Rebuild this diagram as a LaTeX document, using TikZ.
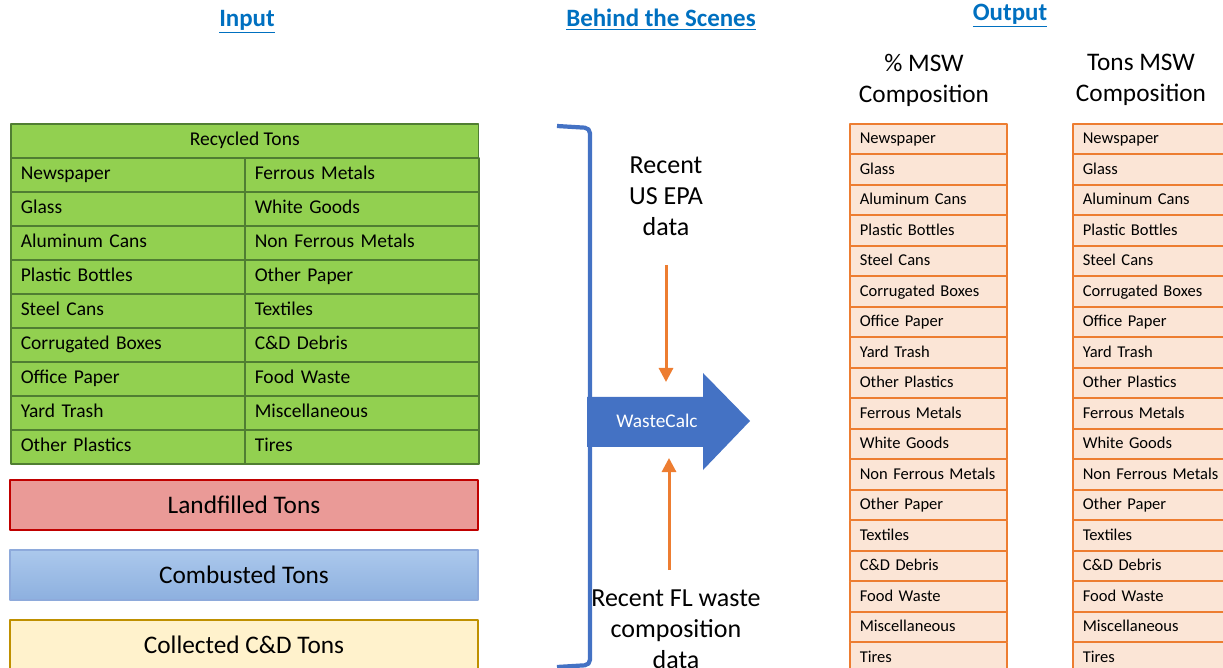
\documentclass[tikz,border=0pt]{standalone}
\usepackage{fontspec}
\setmainfont{Carlito}
\usetikzlibrary{positioning,arrows.meta}
\definecolor{headblue}{HTML}{0070C0}
\definecolor{recgreen}{HTML}{92D050}
\definecolor{recline}{HTML}{507E32}
\definecolor{landfill}{HTML}{EA9A97}
\definecolor{landline}{HTML}{C00000}
\definecolor{combtop}{HTML}{ABC8EC}
\definecolor{combbot}{HTML}{8DB0DF}
\definecolor{combline}{HTML}{8EAADB}
\definecolor{cdfill}{HTML}{FFF2CC}
\definecolor{cdline}{HTML}{BF9000}
\definecolor{calcblue}{HTML}{4472C4}
\definecolor{epaorange}{HTML}{ED7D31}
\definecolor{mswfill}{HTML}{FBE5D6}
\tikzset{
	heading/.style={text=headblue,font=\fontsize{14.2}{16}\selectfont\bfseries},
	rec/.style={draw=recline,fill=recgreen,line width=0.9pt,anchor=north west,minimum height=0.68cm,
		inner xsep=0.2cm,text height=1.6ex,text depth=0.45ex,font=\fontsize{11.1}{13}\selectfont},
	reccell/.style={rec,text width=4.28cm,align=left},
	bar/.style={line width=1.2pt,minimum width=9.36cm,minimum height=1cm,font=\fontsize{14.4}{16}\selectfont},
	msw/.style={draw=epaorange,fill=mswfill,line width=0.9pt,anchor=north west,minimum height=0.61cm,
		inner xsep=0.2cm,text width=2.74cm,align=left,text height=1.6ex,text depth=0.45ex,
		font=\fontsize{9.4}{11}\selectfont},
	note/.style={align=center,font=\fontsize{14.8}{17.6}\selectfont},
	feed/.style={->,epaorange,line width=1.7pt},
}
\begin{document}
\begin{tikzpicture}[x=0.02cm,y=-0.02cm,line join=round,>={Triangle[width=8pt,length=8pt]}]
\useasboundingbox (0,0) rectangle (1223,668);
\clip (0,0) rectangle (1223,668);
% headings
\node[heading] (input) at (247,22) {\underline{Input}};
\node[heading] (behind) at (661,20) {\underline{Behind the Scenes}};
\node[heading] (output) at (1010,16) {\underline{Output}};
% input side
\node[rec,minimum width=9.36cm] (rechead) at (10,123) {Recycled Tons};
\foreach \a/\b [count=\i] in {Newspaper/Ferrous Metals,Glass/White Goods,Aluminum Cans/Non Ferrous Metals,
	Plastic Bottles/Other Paper,Steel Cans/Textiles,Corrugated Boxes/C\&D Debris,
	Office Paper/Food Waste,Yard Trash/Miscellaneous,Other Plastics/Tires}{
	\node[reccell] (recl\i) at (10,{157+(\i-1)*34}) {\a};
	\node[reccell] (recr\i) at (244,{157+(\i-1)*34}) {\b};}
\node[bar,draw=landline,fill=landfill] (land) at (244,505) {Landfilled Tons};
\node[bar,draw=combline,top color=combtop,bottom color=combbot] (comb) at (244,575) {Combusted Tons};
\node[bar,draw=cdline,fill=cdfill] (cd) at (244,645) {Collected C\&D Tons};
% behind the scenes
\draw[calcblue,line width=2.4pt,rounded corners=3pt] (557,126)--(590,128)--(590,665)--(557,667);
\fill[calcblue] (587,397)--(703,397)--(703,373)--(750,421)--(703,470)--(703,447)--(587,447)--cycle;
\node[text=white,font=\fontsize{11}{13}\selectfont] (calc) at (657,421) {WasteCalc};
\node[note] (epa) at (666,196) {Recent\\US EPA\\data};
\node[note] (fl) at (676,629) {Recent FL waste\\composition\\data};
\coordinate (epastart) at (666,265);
\coordinate (epaend) at (666,382);
\coordinate (flstart) at (669,570);
\coordinate (flend) at (669,458);
\draw[feed] (epastart) -- (epaend);
\draw[feed] (flstart) -- (flend);
% output side
\node[note,font=\fontsize{14.4}{17.6}\selectfont] (pcthead) at (924,80) {\% MSW\\Composition};
\node[note,font=\fontsize{14.4}{17.6}\selectfont] (tonhead) at (1141,80) {Tons MSW\\Composition};
\foreach \lbl [count=\i] in {Newspaper,Glass,Aluminum Cans,Plastic Bottles,Steel Cans,Corrugated Boxes,
	Office Paper,Yard Trash,Other Plastics,Ferrous Metals,White Goods,Non Ferrous Metals,
	Other Paper,Textiles,C\&D Debris,Food Waste,Miscellaneous,Tires}{
	\node[msw] (pct\i) at (849,{123+(\i-1)*30.5}) {\lbl};
	\node[msw] (ton\i) at (1072,{123+(\i-1)*30.5}) {\lbl};}
\end{tikzpicture}
\end{document}
